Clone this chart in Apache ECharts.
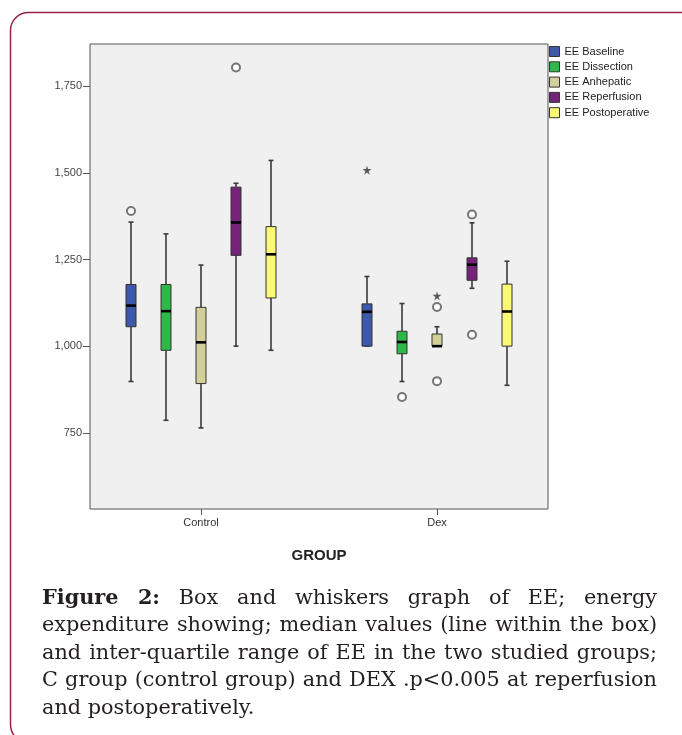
<!DOCTYPE html>
<html><head><meta charset="utf-8">
<script src="https://cdn.jsdelivr.net/npm/echarts@6/dist/echarts.min.js"></script>
<style>
html,body{margin:0;padding:0;background:#fff;}
#chart{position:absolute;left:0;top:0;width:682px;height:735px;}
#caption{position:absolute;left:42px;top:583px;width:615px;font-family:'DejaVu Serif',serif;font-size:20.8px;line-height:27.4px;color:#231f20;}
#caption .l{white-space:nowrap;text-align:justify;text-align-last:justify;}
#caption .last{text-align:left;text-align-last:left;}
</style></head><body>
<div id="chart"></div>
<div id="caption">
<div class="l"><b>Figure 2:</b> Box and whiskers graph of EE; energy</div>
<div class="l">expenditure showing; median values (line within the box)</div>
<div class="l">and inter-quartile range of EE in the two studied groups;</div>
<div class="l">C group (control group) and DEX .p&lt;0.005 at reperfusion</div>
<div class="l last">and postoperatively.</div>
</div>
<script>
// ---- data ----
const groups = ['Control', 'Dex'];
const phases = ['EE Baseline', 'EE Dissection', 'EE Anhepatic', 'EE Reperfusion', 'EE Postoperative'];
const colors = ['#3e58ac', '#2eb848', '#d3cf98', '#76237a', '#fbf873'];
// [low, Q1, median, Q3, high] per group (Control, Dex)
const eeBaseline      = [[898, 1056, 1117, 1178, 1358], [1000, 1000, 1099, 1122, 1201]];
const eeDissection    = [[786, 988, 1101, 1178, 1324], [898, 978, 1012, 1043, 1123]];
const eeAnhepatic     = [[764, 892, 1011, 1112, 1234], [1000, 1000, 1000, 1035, 1056]];
const eeReperfusion   = [[1000, 1262, 1357, 1459, 1470], [1167, 1190, 1235, 1255, 1356]];
const eePostoperative = [[988, 1139, 1265, 1345, 1536], [887, 1000, 1100, 1179, 1245]];
// outliers: [groupIndex, phaseIndex, value]
const outlierCircles = [[0, 0, 1390], [0, 3, 1804], [1, 1, 853], [1, 2, 1113], [1, 2, 899], [1, 3, 1380], [1, 3, 1033]];
const outlierStars = [[1, 0, 1508], [1, 2, 1145]];
const yTicks = [750, 1000, 1250, 1500, 1750];

const seriesData = [eeBaseline, eeDissection, eeAnhepatic, eeReperfusion, eePostoperative];
const STEP = 35 / 236;
const font = 'Liberation Sans, Arial, sans-serif';

function renderBox(k) {
  return function (params, api) {
    const off = api.value(0) + (k - 2) * STEP;
    const c = v => api.coord([off, v]);
    const x = c(0)[0];
    const yl = c(api.value(1))[1], yq1 = c(api.value(2))[1], ym = c(api.value(3))[1],
          yq3 = c(api.value(4))[1], yh = c(api.value(5))[1];
    const hw = 5, cw = 2.5;
    const ws = {stroke: '#3a3a3a', lineWidth: 1.6};
    return {type: 'group', children: [
      {type: 'line', shape: {x1: x, y1: yl, x2: x, y2: yq1}, style: ws},
      {type: 'line', shape: {x1: x, y1: yq3, x2: x, y2: yh}, style: ws},
      {type: 'line', shape: {x1: x - cw, y1: yl, x2: x + cw, y2: yl}, style: ws},
      {type: 'line', shape: {x1: x - cw, y1: yh, x2: x + cw, y2: yh}, style: ws},
      {type: 'rect', shape: {x: x - hw, y: yq3, width: 2 * hw, height: Math.max(yq1 - yq3, 0.5)},
        style: {fill: colors[k], stroke: '#333', lineWidth: 1}},
      {type: 'line', shape: {x1: x - hw, y1: ym, x2: x + hw, y2: ym}, style: {stroke: '#000', lineWidth: 2.6}}
    ]};
  };
}

const series = phases.map((name, k) => ({
  name: name,
  type: 'custom',
  itemStyle: {color: colors[k]},
  renderItem: renderBox(k),
  encode: {x: 0, y: [1, 2, 3, 4, 5]},
  data: seriesData[k].map((d, g) => [g].concat(d)),
  z: 2
}));

const toXY = o => [o[0] + (o[1] - 2) * STEP, o[2]];
series.push({
  name: 'outliers', type: 'scatter', symbol: 'emptyCircle', symbolSize: 8,
  itemStyle: {color: '#555', borderColor: '#555', borderWidth: 1.3},
  data: outlierCircles.map(toXY), z: 3, silent: true
});
series.push({
  name: 'extremes', type: 'scatter',
  symbol: 'path://M50,0 L61,35 L98,35 L68,57 L79,91 L50,70 L21,91 L32,57 L2,35 L39,35 Z',
  symbolSize: 9, itemStyle: {color: '#333'},
  data: outlierStars.map(toXY), z: 3, silent: true
});

const chart = echarts.init(document.getElementById('chart'));
chart.setOption({
  animation: false,
  backgroundColor: '#fff',
  graphic: [{
    type: 'rect', silent: true,
    shape: {x: 10.5, y: 12.5, width: 690, height: 730, r: 18},
    style: {fill: 'none', stroke: '#9b2048', lineWidth: 1.5}
  }],
  legend: {
    orient: 'vertical', left: 549, top: 46, padding: 0,
    itemWidth: 10, itemHeight: 10, itemGap: 4.3,
    textStyle: {fontFamily: font, fontSize: 11, color: '#222'},
    data: phases.map((p, k) => ({name: p, icon: 'rect',
      itemStyle: {color: colors[k], borderColor: '#333', borderWidth: 1}}))
  },
  grid: {left: 90, top: 44, width: 458, height: 465, show: true,
    backgroundColor: '#f0f0f0', borderColor: '#555', borderWidth: 1},
  xAxis: {
    type: 'value', min: -111 / 236, max: 1 + 111 / 236, position: 'bottom',
    name: 'GROUP', nameLocation: 'middle', nameGap: 39,
    nameTextStyle: {fontFamily: font, fontSize: 15, fontWeight: 'bold', color: '#222'},
    axisLine: {show: false, onZero: false}, splitLine: {show: false},
    axisTick: {show: true, length: 6, lineStyle: {color: '#555'}, customValues: [0, 1]},
    axisLabel: {customValues: [0, 1], margin: 8, fontFamily: font, fontSize: 11, color: '#333',
      formatter: v => groups[Math.round(v)]}
  },
  yAxis: {
    type: 'value', min: 530, max: 1872, position: 'left',
    axisLine: {show: false, onZero: false}, splitLine: {show: false},
    axisTick: {show: true, length: 7, lineStyle: {color: '#555'}, customValues: yTicks},
    axisLabel: {customValues: yTicks, margin: 8, fontFamily: font, fontSize: 11, color: '#444',
      formatter: v => v.toLocaleString('en-US')}
  },
  series: series
});
</script>
</body></html>
